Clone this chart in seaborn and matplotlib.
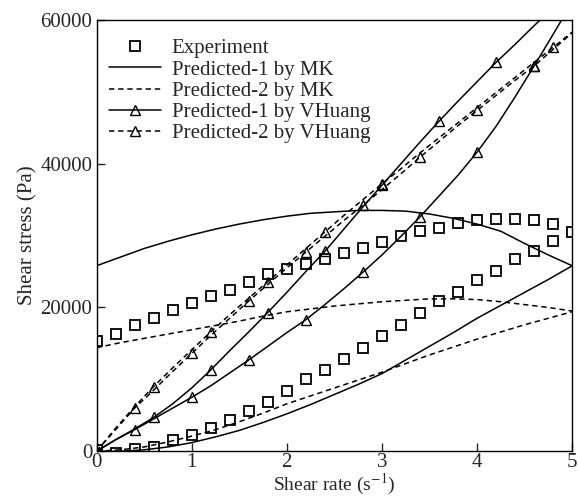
import numpy as np
import matplotlib
matplotlib.use("Agg")
import matplotlib.pyplot as plt
from matplotlib.lines import Line2D
import seaborn as sns

# shear rate grids
rate_exp = [0.0, 0.2, 0.4, 0.6, 0.8, 1.0, 1.2, 1.4, 1.6, 1.8, 2.0, 2.2, 2.4,
            2.6, 2.8, 3.0, 3.2, 3.4, 3.6, 3.8, 4.0, 4.2, 4.4, 4.6, 4.8, 5.0]
rate_mk = [0.0, 0.25, 0.5, 0.75, 1.0, 1.25, 1.5, 1.75, 2.0, 2.25, 2.5, 2.75,
           3.0, 3.25, 3.5, 3.75, 4.0, 4.25, 4.5, 4.75, 5.0]

# experiment, shear stress in Pa (two branches of the loop)
exp_upper = [15300, 16300, 17600, 18600, 19600, 20600, 21600, 22500, 23500,
             24600, 25300, 26100, 26800, 27600, 28300, 29100, 30000, 30600,
             31100, 31700, 32100, 32300, 32300, 32100, 31600, 30500]
exp_lower = [200, -200, 250, 600, 1500, 2300, 3300, 4400, 5600, 6900, 8400,
             10000, 11300, 12900, 14400, 16100, 17600, 19200, 20900, 22200,
             23800, 25100, 26700, 27900, 29200]

# MK model
mk1_upper = [25800, 27000, 28200, 29200, 30100, 30900, 31600, 32200, 32700,
             33100, 33300, 33500, 33500, 33400, 33000, 32400, 31600, 30600,
             28900, 27300, 25800]
mk1_lower = [0, 0, 200, 600, 1200, 2000, 2900, 4000, 5200, 6500, 7900, 9300,
             10800, 12700, 14600, 16500, 18500, 20300, 22100, 23900, 25800]
mk2_upper = [14400, 15100, 15700, 16300, 16900, 17500, 18100, 18800, 19400,
             19800, 20200, 20500, 20800, 21000, 21200, 21200, 21100, 20800,
             20400, 20000, 19500]
mk2_lower = [0, 200, 600, 1300, 2100, 3000, 4100, 5300, 6600, 7700, 8800,
             9900, 11000, 12200, 13400, 14500, 15600, 16600, 17600, 18500, 19400]

# VHuang model
vh1_a = [0, 1600, 3100, 4700, 6600, 8800, 11300, 14000, 16600, 19300, 22100,
         25000, 27800, 30900, 34000, 37000, 40000, 43000, 45900, 48700, 51400,
         54100, 56600, 59200, 61700, 64200]
vh1_b = [0, 1600, 3000, 4500, 6000, 7500, 9100, 10900, 12700, 14600, 16500,
         18300, 20400, 22600, 24900, 27300, 29900, 32600, 35500, 38400, 41600,
         45200, 49300, 53600, 58000, 62500]
vh2_a = [0, 3000, 6000, 8500, 11100, 13600, 16100, 18500, 20900, 23200, 25500,
         27700, 29900, 32100, 34200, 36400, 38600, 40900, 43100, 45300, 47400,
         49500, 51600, 53600, 55900, 58200]
vh2_b = [0, 3200, 6200, 9000, 11600, 14100, 16600, 19000, 21300, 23600, 25900,
         28200, 30500, 32800, 35000, 37200, 39300, 41500, 43600, 45700, 47800,
         49900, 52000, 54100, 56200, 58300]

# which grid points carry a triangle
marks_vh1_a = [3, 6, 9, 12, 15, 18, 21]
marks_vh1_b = [2, 5, 8, 11, 14, 17, 20, 23]
marks_vh2_a = [2, 5, 8, 11, 14, 17, 20, 23]
marks_vh2_b = [3, 6, 9, 12, 15, 24]

sns.set_style("ticks")
plt.rcParams['font.family'] = ['Liberation Serif', 'DejaVu Serif']
plt.rcParams['mathtext.fontset'] = 'stix'
plt.rcParams['font.size'] = 15

fig = plt.figure(figsize=(5.78, 4.97), dpi=100)
ax = fig.add_axes([0.167, 0.092, 0.823, 0.868])

lw = 1.1
dash = (3.5, 2.5)

# experiment squares
for ys in [exp_upper, exp_lower]:
    sns.lineplot(x=rate_exp[:len(ys)], y=ys, ax=ax, estimator=None, sort=False,
                 color='k', linestyle='none', marker='s', ms=6.5,
                 mfc='none', mec='k', mew=1.3)

# MK curves
for ys in [mk1_upper, mk1_lower]:
    sns.lineplot(x=rate_mk, y=ys, ax=ax, estimator=None, sort=False,
                 color='k', lw=lw)
for ys in [mk2_upper, mk2_lower]:
    sns.lineplot(x=rate_mk, y=ys, ax=ax, estimator=None, sort=False,
                 color='k', lw=lw, dashes=False, linestyle=(0, dash))

# VHuang curves with triangles
for ys, idx in [(vh1_a, marks_vh1_a), (vh1_b, marks_vh1_b)]:
    sns.lineplot(x=rate_exp, y=ys, ax=ax, estimator=None, sort=False,
                 color='k', lw=lw, marker='^', markevery=idx, ms=7.5,
                 mfc='none', mec='k', mew=1.0)
for ys, idx in [(vh2_a, marks_vh2_a), (vh2_b, marks_vh2_b)]:
    sns.lineplot(x=rate_exp, y=ys, ax=ax, estimator=None, sort=False,
                 color='k', lw=lw, linestyle=(0, dash), marker='^',
                 markevery=idx, ms=7.5, mfc='none', mec='k', mew=1.0)

ax.set_xlim(0, 5)
ax.set_ylim(0, 60000)
ax.set_xticks([0, 1, 2, 3, 4, 5])
ax.set_yticks([0, 20000, 40000, 60000])
ax.tick_params(direction='in', length=6, width=1, labelsize=15, pad=3)
ax.tick_params(axis='x', pad=1.5)
for s in ax.spines.values():
    s.set_linewidth(1.0)
    s.set_color('k')

ax.set_xlabel('Shear rate (s$^{-1}$)', fontsize=14, labelpad=0)
ax.set_ylabel('Shear stress (Pa)', fontsize=15, labelpad=2)

handles = [
    Line2D([], [], color='k', linestyle='none', marker='s', ms=6.5,
           mfc='none', mec='k', mew=1.3),
    Line2D([], [], color='k', lw=lw),
    Line2D([], [], color='k', lw=lw, linestyle=(0, dash)),
    Line2D([], [], color='k', lw=lw, marker='^', ms=7.5, mfc='none', mew=1.0),
    Line2D([], [], color='k', lw=lw, linestyle=(0, dash), marker='^', ms=7.5,
           mfc='none', mew=1.0),
]
labels = ['Experiment', 'Predicted-1 by MK', 'Predicted-2 by MK',
          'Predicted-1 by VHuang', 'Predicted-2 by VHuang']
ax.legend(handles, labels, loc='upper left', bbox_to_anchor=(0.0, 0.985),
          frameon=False, handlelength=2.5, handletextpad=0.5,
          labelspacing=0.08, numpoints=1, borderaxespad=0.2, fontsize=15)

fig.savefig('out.png', dpi=100)
